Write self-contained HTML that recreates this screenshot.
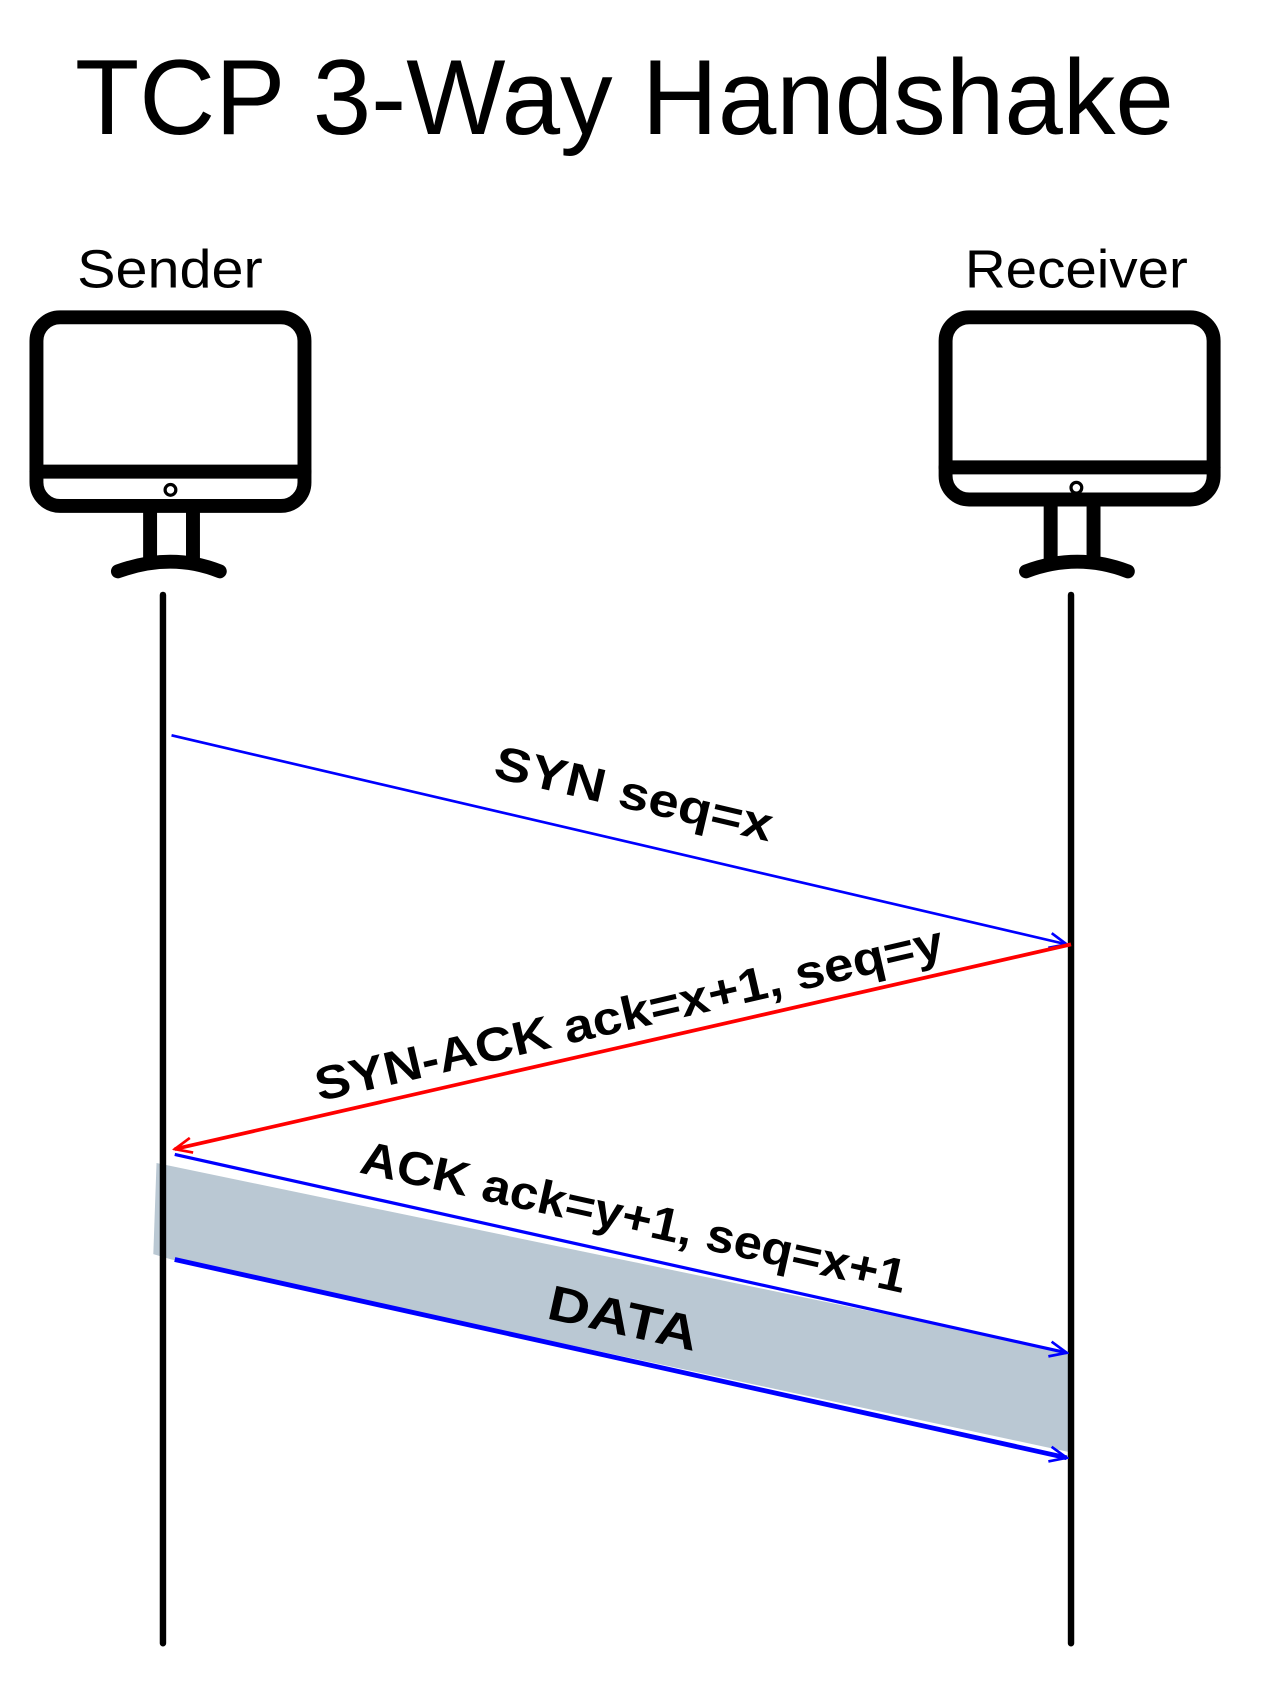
<!DOCTYPE html>
<html><head><meta charset="utf-8"><style>
html,body{margin:0;padding:0;background:#fff;}
svg{display:block;}
text{font-family:"Liberation Sans",sans-serif;fill:#000;}
</style></head><body>
<svg width="1264" height="1684" viewBox="0 0 1179 1571" preserveAspectRatio="none" xmlns="http://www.w3.org/2000/svg">
<defs>
<marker id="ab" viewBox="0 0 20 20" refX="18" refY="10" markerWidth="20" markerHeight="20" markerUnits="userSpaceOnUse" orient="auto"><path d="M2,3 L18,10 L2,17" fill="none" stroke="#00f" stroke-width="2.5"/></marker>
<marker id="ar" viewBox="0 0 20 20" refX="18" refY="10" markerWidth="20" markerHeight="20" markerUnits="userSpaceOnUse" orient="auto"><path d="M2,3 L18,10 L2,17" fill="none" stroke="#f00" stroke-width="2.5"/></marker>
</defs>
<text x="70" y="125" font-size="100" textLength="1025" lengthAdjust="spacingAndGlyphs">TCP 3-Way Handshake</text>
<text x="72" y="268" font-size="50" textLength="173" lengthAdjust="spacingAndGlyphs">Sender</text>
<text x="900" y="268" font-size="50" textLength="208" lengthAdjust="spacingAndGlyphs">Receiver</text>
<g fill="none" stroke="#000" stroke-width="13" stroke-linecap="round" stroke-linejoin="round">
<rect x="34" y="296" width="250" height="176" rx="22"/>
<line x1="34" y1="440" x2="284" y2="440"/>
<line x1="140" y1="478" x2="140" y2="522"/><line x1="180" y1="478" x2="180" y2="522"/>
<path d="M110,533 Q160,515 205,533"/>
<rect x="882" y="296" width="250" height="170" rx="22"/>
<line x1="882" y1="436" x2="1132" y2="436"/>
<line x1="980" y1="472" x2="980" y2="522"/><line x1="1020" y1="472" x2="1020" y2="522"/>
<path d="M957,533 Q1005,515 1052,533"/>
</g>
<circle cx="159" cy="457" r="5" fill="none" stroke="#000" stroke-width="3"/>
<circle cx="1004" cy="455" r="5" fill="none" stroke="#000" stroke-width="3"/>
<polygon points="146,1085 999,1262 999,1355 160,1175 143,1170" fill="#bac8d3"/>
<line x1="152" y1="555" x2="152" y2="1533" stroke="#000" stroke-width="6" stroke-linecap="round"/>
<line x1="999" y1="555" x2="999" y2="1533" stroke="#000" stroke-width="6" stroke-linecap="round"/>
<line x1="160" y1="686" x2="995" y2="881" stroke="#00f" stroke-width="2.5" marker-end="url(#ab)"/>
<line x1="999" y1="881" x2="163" y2="1072" stroke="#f00" stroke-width="3.5" marker-end="url(#ar)"/>
<line x1="163" y1="1077" x2="995" y2="1262" stroke="#00f" stroke-width="3" marker-end="url(#ab)"/>
<line x1="163" y1="1175" x2="995" y2="1360" stroke="#00f" stroke-width="4.5" marker-end="url(#ab)"/>
<text font-size="44" text-anchor="middle" font-weight="bold" textLength="265" lengthAdjust="spacingAndGlyphs" transform="translate(588,755) rotate(13.1)">SYN seq=x</text>
<text font-size="44" text-anchor="middle" font-weight="bold" textLength="600" lengthAdjust="spacingAndGlyphs" transform="translate(590,960) rotate(-13)">SYN-ACK ack=x+1, seq=y</text>
<text font-size="44" text-anchor="middle" font-weight="bold" textLength="520" lengthAdjust="spacingAndGlyphs" transform="translate(588,1150) rotate(12.5)">ACK ack=y+1, seq=x+1</text>
<text font-size="46" text-anchor="middle" font-weight="bold" textLength="142" lengthAdjust="spacingAndGlyphs" transform="translate(578,1245) rotate(12.5)">DATA</text>
</svg>
</body></html>
